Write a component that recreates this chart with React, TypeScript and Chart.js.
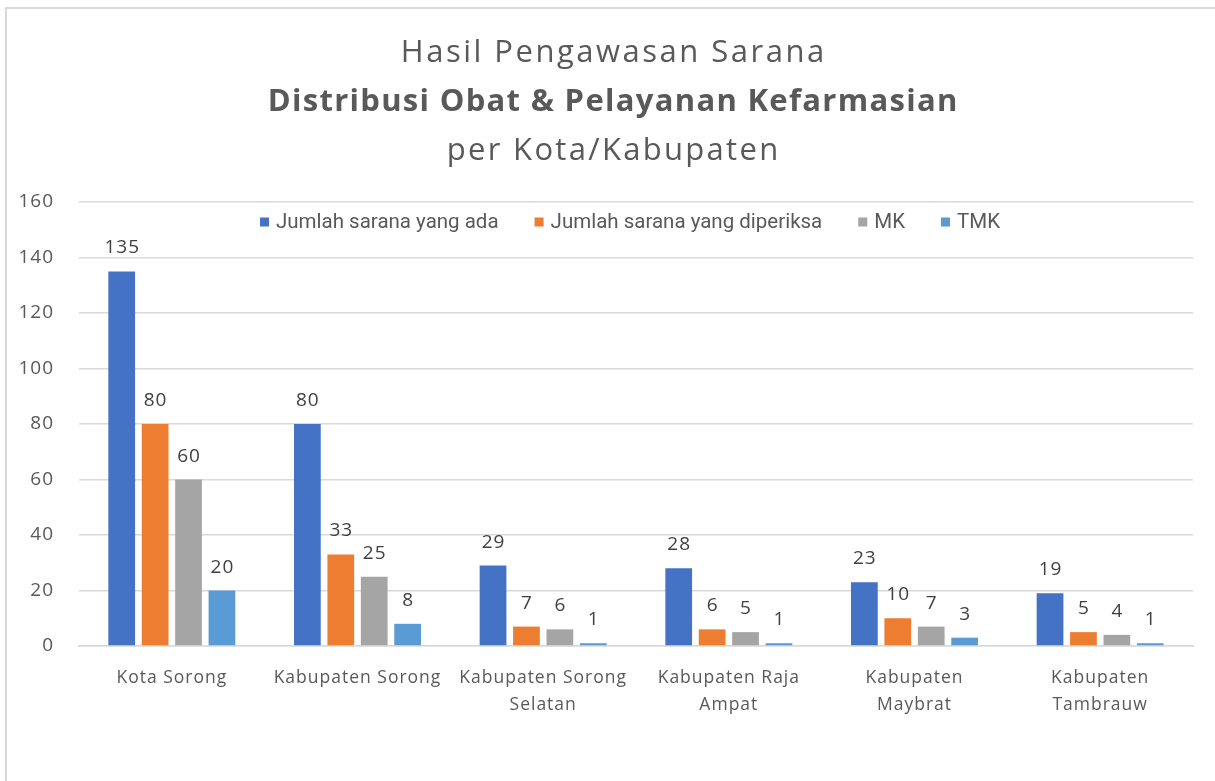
import React, { useEffect, useRef } from "react";
import { Chart, registerables } from "chart.js";

Chart.register(...registerables);

const categories: string[][] = [
  ["Kota Sorong"],
  ["Kabupaten Sorong"],
  ["Kabupaten Sorong", "Selatan"],
  ["Kabupaten Raja", "Ampat"],
  ["Kabupaten", "Maybrat"],
  ["Kabupaten", "Tambrauw"],
];
const seriesNames = [
  "Jumlah sarana yang ada",
  "Jumlah sarana yang diperiksa",
  "MK",
  "TMK",
];
const jumlahAda = [135, 80, 29, 28, 23, 19];
const jumlahDiperiksa = [80, 33, 7, 6, 10, 5];
const mk = [60, 25, 6, 5, 7, 4];
const tmk = [20, 8, 1, 1, 3, 1];
const seriesColors = ["#4472C4", "#ED7D31", "#A5A5A5", "#5B9BD5"];
const titleLines = [
  "Hasil Pengawasan Sarana",
  "Distribusi Obat & Pelayanan Kefarmasian",
  "per Kota/Kabupaten",
];
const yMin = 0;
const yMax = 160;
const yStep = 20;

const FONT = "'Open Sans', sans-serif";

const spacingPlugin = {
  id: "spacing",
  beforeDraw(chart: any) {
    chart.ctx.letterSpacing = "1px";
  },
};

const dataLabelPlugin = {
  id: "dataLabels",
  afterDatasetsDraw(chart: any) {
    const ctx = chart.ctx;
    ctx.save();
    ctx.letterSpacing = "1px";
    ctx.font = `19px ${FONT}`;
    ctx.fillStyle = "#404040";
    ctx.textAlign = "center";
    ctx.textBaseline = "alphabetic";
    chart.data.datasets.forEach((ds: any, i: number) => {
      const meta = chart.getDatasetMeta(i);
      meta.data.forEach((el: any, j: number) => {
        ctx.fillText(String(ds.data[j]), el.x + 0.5, el.y - 18);
      });
    });
    ctx.restore();
  },
};

const legendPlugin = {
  id: "insideLegend",
  afterDraw(chart: any) {
    const ctx = chart.ctx;
    ctx.save();
    ctx.letterSpacing = "0px";
    ctx.font = `20.5px Roboto, sans-serif`;
    ctx.textBaseline = "middle";
    ctx.textAlign = "left";
    const box = 9;
    const gapBoxText = 7;
    const itemGap = 36;
    const items = chart.data.datasets.map((ds: any) => ({
      label: ds.label,
      color: ds.backgroundColor,
      w: ctx.measureText(ds.label).width,
    }));
    const total =
      items.reduce((s: number, it: any) => s + box + gapBoxText + it.w, 0) +
      itemGap * (items.length - 1);
    const area = chart.chartArea;
    let x = (area.left + area.right) / 2 - 6 - total / 2;
    const y = area.top + 20;
    items.forEach((it: any) => {
      ctx.fillStyle = it.color;
      ctx.fillRect(x, y - box / 2, box, box);
      x += box + gapBoxText;
      ctx.fillStyle = "#595959";
      ctx.fillText(it.label, x, y + 1);
      x += it.w + itemGap;
    });
    ctx.restore();
  },
};

export default function App() {
  const canvasRef = useRef<HTMLCanvasElement | null>(null);

  useEffect(() => {
    if (!canvasRef.current) return;
    const values = [jumlahAda, jumlahDiperiksa, mk, tmk];
    const chart = new Chart(canvasRef.current, {
      type: "bar",
      data: {
        labels: categories,
        datasets: seriesNames.map((name, i) => ({
          label: name,
          data: values[i],
          backgroundColor: seriesColors[i],
          borderWidth: 0,
          categoryPercentage: 0.72,
          barPercentage: 0.8,
        })),
      },
      options: {
        responsive: false,
        animation: false,
        devicePixelRatio: 1,
        layout: { padding: { top: 202, right: 22, bottom: 0, left: 0 } },
        plugins: {
          legend: { display: false },
          title: { display: false },
          tooltip: { enabled: false },
        },
        scales: {
          x: {
            grid: { display: false },
            border: { display: true, color: "#d9d9d9", width: 1.5 },
            ticks: {
              color: "#595959",
              font: { family: FONT, size: 17.5, lineHeight: 1.55 },
              padding: 10,
              maxRotation: 0,
              autoSkip: false,
            },
            afterFit: (scale: any) => {
              scale.height = 135;
            },
          },
          y: {
            min: yMin,
            max: yMax,
            grid: { color: "#d9d9d9", lineWidth: 1.5, drawTicks: false },
            border: { display: false },
            ticks: {
              stepSize: yStep,
              color: "#595959",
              font: { family: FONT, size: 19 },
              padding: 25,
            },
            afterFit: (scale: any) => {
              scale.width = 79;
            },
          },
        },
      },
      plugins: [spacingPlugin, dataLabelPlugin, legendPlugin],
    });
    return () => chart.destroy();
  }, []);

  const lineStyle = (
    top: number,
    weight: number,
    ls: number
  ): React.CSSProperties => ({
    position: "absolute",
    left: 0,
    width: 1225,
    top,
    textAlign: "center",
    fontFamily: FONT,
    fontSize: 31,
    fontWeight: weight,
    color: "#595959",
    lineHeight: "40px",
    letterSpacing: ls,
    paddingLeft: ls,
    boxSizing: "border-box",
    whiteSpace: "nowrap",
  });

  return (
    <div
      style={{
        position: "fixed",
        left: 0,
        top: 0,
        width: 1215,
        height: 781,
        overflow: "hidden",
        background: "#ffffff",
      }}
    >
      <div
        style={{
          position: "absolute",
          left: 5,
          top: 7,
          width: 1400,
          height: 1000,
          borderLeft: "2px solid #d9d9d9",
          borderTop: "2px solid #d9d9d9",
        }}
      />
      <canvas
        ref={canvasRef}
        width={1215}
        height={781}
        style={{ position: "absolute", left: 0, top: 0, display: "block" }}
      />
      <div style={lineStyle(30, 400, 2.5)}>{titleLines[0]}</div>
      <div style={lineStyle(79, 700, 1.3)}>{titleLines[1]}</div>
      <div style={lineStyle(128, 400, 2.3)}>{titleLines[2]}</div>
    </div>
  );
}
